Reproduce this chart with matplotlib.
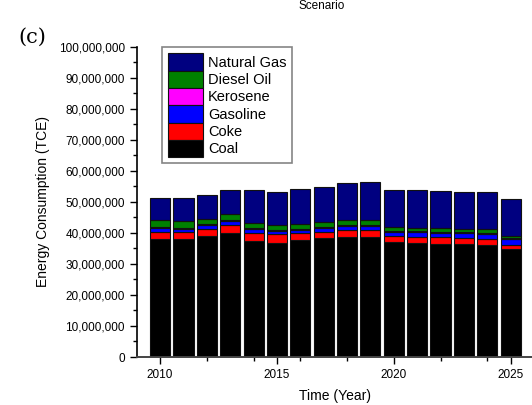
import matplotlib
matplotlib.use("Agg")
import matplotlib.pyplot as plt
from matplotlib.ticker import FuncFormatter, MultipleLocator, FixedLocator

plt.rcParams['font.family'] = ['Liberation Sans', 'DejaVu Sans']

# energy consumption by fuel type (TCE)
years = [2010, 2011, 2012, 2013, 2014, 2015, 2016, 2017,
         2018, 2019, 2020, 2021, 2022, 2023, 2024, 2025]
coal = [38.0e6, 37.9e6, 39.1e6, 40.1e6, 37.5e6, 36.9e6, 37.7e6, 38.3e6,
        38.6e6, 38.6e6, 37.0e6, 36.8e6, 36.5e6, 36.4e6, 36.1e6, 34.7e6]
coke = [2.4e6, 2.5e6, 2.3e6, 2.5e6, 2.5e6, 2.6e6, 2.2e6, 2.1e6,
        2.3e6, 2.3e6, 1.9e6, 1.9e6, 2.1e6, 2.0e6, 2.0e6, 1.5e6]
gasoline = [1.1e6, 1.0e6, 1.1e6, 1.3e6, 1.2e6, 1.2e6, 1.2e6, 1.3e6,
            1.4e6, 1.4e6, 1.5e6, 1.5e6, 1.5e6, 1.6e6, 1.7e6, 1.8e6]
kerosene = [0.3e6, 0.3e6, 0.3e6, 0.3e6, 0.3e6, 0.3e6, 0.3e6, 0.3e6,
            0.3e6, 0.3e6, 0.3e6, 0.3e6, 0.3e6, 0.3e6, 0.3e6, 0.2e6]
diesel = [2.3e6, 2.1e6, 1.8e6, 2.0e6, 1.8e6, 1.7e6, 1.6e6, 1.6e6,
          1.7e6, 1.5e6, 1.3e6, 1.2e6, 1.2e6, 1.1e6, 1.1e6, 0.9e6]
natural_gas = [7.3e6, 7.3e6, 7.7e6, 7.5e6, 10.4e6, 10.4e6, 11.0e6, 11.3e6,
               11.7e6, 12.2e6, 11.7e6, 12.0e6, 11.8e6, 11.9e6, 11.9e6, 11.9e6]

series = [("Coal", coal, "#000000"),
          ("Coke", coke, "#ff0000"),
          ("Gasoline", gasoline, "#0000ff"),
          ("Kerosene", kerosene, "#ff00ff"),
          ("Diesel Oil", diesel, "#008000"),
          ("Natural Gas", natural_gas, "#000080")]

fig = plt.figure(figsize=(5.32, 4.05), dpi=100)
ax = fig.add_axes([0.257, 0.1185, 0.7468, 0.766])

bottom = [0.0] * len(years)
handles = []
for name, vals, col in series:
    b = ax.bar(years, vals, width=0.86, bottom=bottom, color=col,
               edgecolor="#111111", linewidth=0.8, label=name)
    handles.append(b)
    bottom = [s + v for s, v in zip(bottom, vals)]

ax.set_xlim(2009, 2026)
ax.set_ylim(0, 100e6)

ax.xaxis.set_major_locator(FixedLocator([2010, 2015, 2020, 2025]))
ax.xaxis.set_minor_locator(FixedLocator([2012, 2014, 2016, 2018, 2022, 2024]))
ax.yaxis.set_major_locator(MultipleLocator(10e6))
ax.yaxis.set_minor_locator(MultipleLocator(5e6))
ax.yaxis.set_major_formatter(FuncFormatter(lambda v, p: f"{int(v):,}"))

ax.tick_params(axis="both", which="major", direction="out", length=5,
               width=1, labelsize=8.5, colors="black")
ax.tick_params(axis="both", which="minor", direction="out", length=3, width=1)

for s in ["top", "right"]:
    ax.spines[s].set_visible(False)
ax.spines["left"].set_linewidth(1.2)
ax.spines["bottom"].set_linewidth(1.4)
ax.spines["bottom"].set_color("#444444")

ax.set_xlabel("Time (Year)", fontsize=10, labelpad=6)
ax.set_ylabel("Energy Consumption (TCE)", fontsize=10, labelpad=6)

leg = ax.legend(handles[::-1], [s[0] for s in series][::-1],
                loc="upper left", bbox_to_anchor=(0.064, 0.998),
                fontsize=10.5, frameon=True, fancybox=False,
                handlelength=2.4, handleheight=1.45, labelspacing=0.0,
                handletextpad=0.35, borderpad=0.4, borderaxespad=0)
leg.get_frame().set_edgecolor("#666666")
leg.get_frame().set_linewidth(1.2)

fig.text(0.035, 0.895, "(c)", fontsize=15, family="DejaVu Serif")
fig.text(0.605, 0.985, "Scenario", fontsize=8.5, ha="center", va="center")

fig.savefig("out.png", dpi=100)
